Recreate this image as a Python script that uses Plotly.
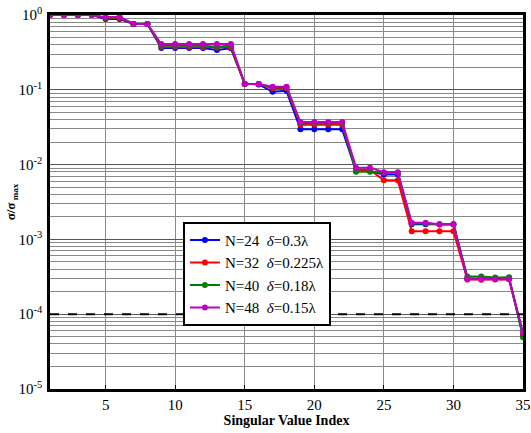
import plotly.graph_objects as go

idx = list(range(1, 36))

n24 = [1.0, 1.0, 1.0, 1.0, 0.885, 0.885, 0.76, 0.76,
       0.362, 0.362, 0.362, 0.362, 0.34, 0.358,
       0.12, 0.118, 0.094, 0.097,
       0.0296, 0.0296, 0.0296, 0.0296,
       0.0082, 0.0082, 0.0074, 0.0074,
       0.0016, 0.0016, 0.0016, 0.0016,
       0.000300, 0.000300, 0.000295, 0.000300,
       0.000052]
n32 = [1.0, 1.0, 1.0, 1.0, 0.91, 0.91, 0.76, 0.76,
       0.373, 0.373, 0.373, 0.373, 0.365, 0.37,
       0.12, 0.12, 0.104, 0.105,
       0.0341, 0.0341, 0.0341, 0.0341,
       0.0085, 0.0085, 0.0062, 0.0062,
       0.00129, 0.00129, 0.00129, 0.00129,
       0.000290, 0.000288, 0.000290, 0.000293,
       0.000054]
n40 = [1.0, 1.0, 1.0, 1.0, 0.92, 0.93, 0.76, 0.76,
       0.389, 0.389, 0.389, 0.389, 0.375, 0.39,
       0.12, 0.12, 0.107, 0.108,
       0.0356, 0.0356, 0.0356, 0.0356,
       0.0080, 0.0080, 0.0078, 0.0078,
       0.00163, 0.00163, 0.00158, 0.00158,
       0.000318, 0.000318, 0.000310, 0.000312,
       0.000049]
n48 = [1.0, 1.0, 1.0, 1.0, 0.93, 0.95, 0.76, 0.76,
       0.41, 0.41, 0.41, 0.41, 0.41, 0.41,
       0.12, 0.12, 0.11, 0.11,
       0.0371, 0.0371, 0.0371, 0.0371,
       0.0091, 0.0091, 0.0079, 0.0079,
       0.00167, 0.00167, 0.00160, 0.00160,
       0.000293, 0.000293, 0.000293, 0.000293,
       0.000057]

names = ["N=24  <i>δ</i>=0.3λ", "N=32  <i>δ</i>=0.225λ",
         "N=40  <i>δ</i>=0.18λ", "N=48  <i>δ</i>=0.15λ"]
colors = ["#0000ff", "#ff0000", "#008000", "#c000c0"]
series = [n24, n32, n40, n48]

threshold = 1e-4
ytickvals = [1e-5, 1e-4, 1e-3, 1e-2, 1e-1, 1]
yticktext = ["10<sup>-5</sup>", "10<sup>-4</sup>", "10<sup>-3</sup>",
             "10<sup>-2</sup>", "10<sup>-1</sup>", "10<sup>0</sup>"]
xtickvals = [5, 10, 15, 20, 25, 30, 35]

fig = go.Figure()
for s, nm, c in zip(series, names, colors):
    fig.add_trace(go.Scatter(x=idx, y=s, name=nm, mode="lines+markers",
                             line=dict(color=c, width=2),
                             marker=dict(color=c, size=6),
                             cliponaxis=False))

fig.add_trace(go.Scatter(x=[1, 35], y=[threshold, threshold], mode="lines",
                         line=dict(color="black", width=2, dash="dash"),
                         showlegend=False, hoverinfo="skip"))

font_fam = "Liberation Serif, Times New Roman, serif"
fig.update_layout(
    width=531, height=433,
    margin=dict(l=50, r=8, t=15, b=44, autoexpand=False),
    paper_bgcolor="white", plot_bgcolor="white",
    font=dict(family=font_fam, size=14, color="black"),
    showlegend=True, hovermode=False,
    legend=dict(x=0.281, y=0.447, xanchor="left", yanchor="top",
                bgcolor="white", bordercolor="black", borderwidth=2,
                font=dict(family=font_fam, size=15), tracegroupgap=0,
                itemwidth=30),
    xaxis=dict(range=[1, 35], tickvals=xtickvals, showline=True, mirror=True,
               linecolor="black", linewidth=2.5, showgrid=True,
               gridcolor="#8a8a8a", gridwidth=1, zeroline=False,
               ticks="inside", ticklen=4, tickcolor="black", automargin=False,
               tickfont=dict(size=15),
               title=dict(text="<b>Singular Value Index</b>", standoff=0,
                          font=dict(size=14))),
    yaxis=dict(type="log", range=[-5, 0], tickvals=ytickvals, ticktext=yticktext,
               showline=True, mirror=True, linecolor="black", linewidth=2.5,
               showgrid=True, gridcolor="#555555", gridwidth=1.2, zeroline=False,
               minor=dict(showgrid=True, gridcolor="#888888", gridwidth=1,
                          dtick="D1"),
               ticks="", automargin=False, ticklabelstandoff=2,
               tickfont=dict(size=15),
               title=dict(text="<b>σ/σ<sub> max</sub></b>", standoff=0,
                          font=dict(size=13))),
)

# remove the browser's default 8px body margin so the figure fills the window
fig.write_html("out.html", config={"displayModeBar": False},
               post_script="document.body.style.margin='0';")
